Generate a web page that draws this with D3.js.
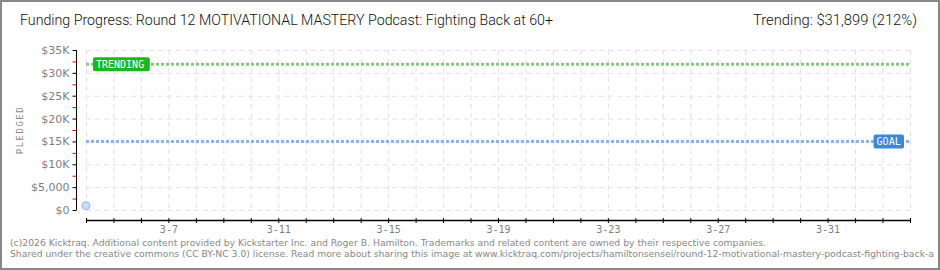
<!DOCTYPE html>
<html>
<head>
<meta charset="utf-8">
<script src="https://cdnjs.cloudflare.com/ajax/libs/d3/7.8.5/d3.min.js"></script>
<style>
  body { margin: 0; background: #fff; }
  svg { display: block; }
</style>
</head>
<body>
<div id="chart"></div>
<script>
var title = "Funding Progress: Round 12 MOTIVATIONAL MASTERY Podcast: Fighting Back at 60+";
var trendingText = "Trending:  $31,899 (212%)";
var footer1 = "(c)2026 Kicktraq. Additional content provided by Kickstarter Inc. and Roger B. Hamilton. Trademarks and related content are owned by their respective companies.";
var footer2 = "Shared under the creative commons (CC BY-NC 3.0) license. Read more about sharing this image at www.kicktraq.com/projects/hamiltonsensei/round-12-motivational-mastery-podcast-fighting-back-a";

var startDate = "2026-03-04";
var endDate = "2026-04-03";
var pledgedDates = ["2026-03-04"];
var pledgedValues = [950];
var goal = 15000;
var trending = 31899;
var yMax = 35000;
var yTickValues = [0, 5000, 10000, 15000, 20000, 25000, 30000, 35000];
var yTickLabels = ["$0", "$5,000", "$10K", "$15K", "$20K", "$25K", "$30K", "$35K"];

function draw_chart(target, wdth, hght){
  var parse = d3.timeParse("%Y-%m-%d");
  var margin = {top: 50, left: 86, right: 30, bottom: 60};
  var width = wdth - margin.left - margin.right,
      height = hght - margin.top - margin.bottom;

  var svg = d3.select(target)
    .append("svg")
      .attr("width", wdth)
      .attr("height", hght);

  // frame
  svg.append("rect")
    .attr("x", 1).attr("y", 1)
    .attr("width", wdth - 2).attr("height", hght - 2)
    .attr("fill", "#fff")
    .attr("stroke", "#888")
    .attr("stroke-width", 2);

  var x = d3.scaleTime()
    .domain([parse(startDate), parse(endDate)])
    .range([margin.left, margin.left + width]);

  var y = d3.scaleLinear()
    .domain([0, yMax])
    .range([margin.top + height, margin.top]);

  var days = d3.timeDay.range(parse(startDate), d3.timeDay.offset(parse(endDate), 1));

  // grid
  var grid = svg.append("g")
    .attr("stroke", "#e2e2e2")
    .attr("stroke-dasharray", "5,4");
  grid.selectAll(".vgrid")
    .data(days)
    .enter()
    .append("line")
      .attr("x1", function(d){ return x(d) + 0.5 })
      .attr("x2", function(d){ return x(d) + 0.5 })
      .attr("y1", y(yMax))
      .attr("y2", y(0));
  grid.selectAll(".hgrid")
    .data(yTickValues)
    .enter()
    .append("line")
      .attr("x1", x.range()[0])
      .attr("x2", x.range()[1])
      .attr("y1", function(d){ return y(d) + 0.5 })
      .attr("y2", function(d){ return y(d) + 0.5 });

  // y axis
  var yAxis = svg.append("g")
    .attr("transform", "translate(" + (margin.left - 9.5) + ",0)")
    .call(d3.axisLeft(y)
      .tickValues(yTickValues)
      .tickSize(4)
      .tickFormat(function(d, i){ return yTickLabels[i] }));
  yAxis.select(".domain").attr("stroke", "#000").attr("d", "M0," + y(yMax) + "V" + y(0));
  yAxis.selectAll("text")
    .attr("fill", "#808080")
    .style("font-family", "DejaVu Sans")
    .style("font-size", "11px")
    .attr("x", -7);

  var minor = d3.range(2500, yMax, 5000);
  yAxis.selectAll(".minor")
    .data(minor)
    .enter()
    .append("line")
      .attr("x1", -4).attr("x2", 0)
      .attr("y1", function(d){ return y(d) + 0.5 })
      .attr("y2", function(d){ return y(d) + 0.5 })
      .attr("stroke", "#e00000");

  // x axis
  var labelDays = days.filter(function(d){ return (d3.timeDay.count(parse(startDate), d) - 3) % 4 == 0 });
  var xAxis = svg.append("g")
    .attr("transform", "translate(0," + (margin.top + height + 10) + ")")
    .call(d3.axisBottom(x)
      .tickValues(days)
      .tickSizeInner(3)
      .tickSizeOuter(0)
      .tickFormat(function(d){
        return labelDays.some(function(l){ return +l == +d }) ? d3.timeFormat("%-m-%-d")(d) : "";
      }));
  xAxis.selectAll(".tick line").attr("y1", -2).attr("y2", 3).attr("stroke", "#000");
  xAxis.select(".domain").attr("stroke", "#000").attr("stroke-width", 1.5);
  xAxis.selectAll("text")
    .attr("fill", "#808080")
    .attr("y", 6)
    .style("font-family", "DejaVu Sans Mono")
    .style("font-size", "10px");

  // goal & trending lines
  var refs = [
    {v: goal, name: "GOAL", line: "#86b5e8", box: "#3b87d8", pos: "right"},
    {v: trending, name: "TRENDING", line: "#84c97e", box: "#1cb71c", pos: "left"}
  ];
  refs.forEach(function(r){
    svg.append("line")
      .attr("x1", x.range()[0])
      .attr("x2", x.range()[1])
      .attr("y1", y(r.v))
      .attr("y2", y(r.v))
      .attr("stroke", r.line)
      .attr("stroke-width", 3)
      .attr("stroke-dasharray", "3,2");
    var bw = r.name.length * 6.6 + 4;
    var bx = r.pos == "left" ? x.range()[0] + 7 : x.range()[1] - 6 - bw;
    var by = y(r.v) - 7;
    svg.append("rect")
      .attr("x", bx).attr("y", by)
      .attr("width", bw).attr("height", 14)
      .attr("rx", 2)
      .attr("fill", r.box);
    svg.append("text")
      .attr("x", bx + 3)
      .attr("y", by + 11)
      .attr("fill", "#fff")
      .style("font-family", "DejaVu Sans Mono")
      .style("font-size", "10px")
      .text(r.name);
  });

  // pledged points
  var data = pledgedDates.map(function(d, i){ return {date: parse(d), value: pledgedValues[i]} });
  svg.selectAll(".pt")
    .data(data)
    .enter()
    .append("circle")
      .attr("cx", function(d){ return x(d.date) })
      .attr("cy", function(d){ return y(d.value) })
      .attr("r", 4)
      .attr("fill", "#c8ddf5")
      .attr("stroke", "#94b8e2");

  // y label
  svg.append("text")
    .attr("transform", "translate(23," + (margin.top + height / 2) + ") rotate(-90)")
    .attr("text-anchor", "middle")
    .attr("fill", "#888")
    .style("font-family", "DejaVu Sans Mono")
    .style("font-size", "9px")
    .style("letter-spacing", "1.5px")
    .text("PLEDGED");

  // titles
  svg.append("text")
    .attr("x", 20).attr("y", 25)
    .attr("fill", "#111")
    .attr("textLength", 533)
    .attr("lengthAdjust", "spacingAndGlyphs")
    .style("font-family", "Roboto")
    .style("font-weight", "300")
    .style("font-size", "15px")
    .text(title);
  svg.append("text")
    .attr("x", 917).attr("y", 25)
    .attr("text-anchor", "end")
    .attr("fill", "#111")
    .attr("textLength", 164)
    .attr("lengthAdjust", "spacingAndGlyphs")
    .style("font-family", "Roboto")
    .style("font-weight", "300")
    .style("font-size", "15px")
    .text(trendingText);

  // footer
  svg.append("text")
    .attr("x", 10).attr("y", 246)
    .attr("fill", "#888")
    .attr("textLength", 756)
    .attr("lengthAdjust", "spacingAndGlyphs")
    .style("font-family", "DejaVu Sans")
    .style("font-size", "9.3px")
    .text(footer1);
  svg.append("text")
    .attr("x", 10).attr("y", 257)
    .attr("fill", "#888")
    .attr("textLength", 924)
    .attr("lengthAdjust", "spacingAndGlyphs")
    .style("font-family", "DejaVu Sans")
    .style("font-size", "9.3px")
    .text(footer2);
}

draw_chart("#chart", 940, 270);
</script>
</body>
</html>
